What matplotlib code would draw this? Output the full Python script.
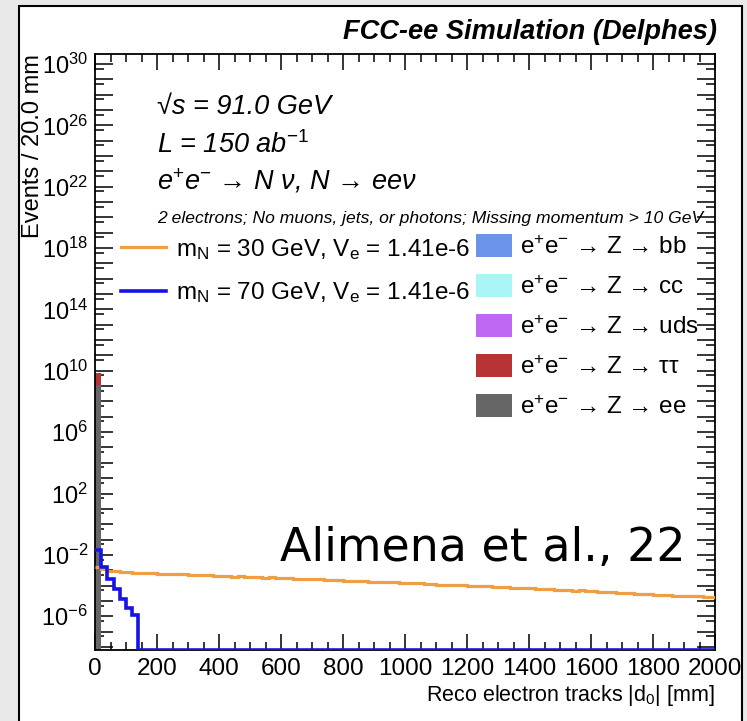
#! /usr/bin/env python3

# Reco electron track |d0| for HNL signal vs. Z backgrounds (FCC-ee, Delphes), ROOT-like look.

import matplotlib
matplotlib.use('Agg')
import matplotlib.pyplot as plt
from matplotlib.patches import Rectangle, Patch
from matplotlib.lines import Line2D
from matplotlib.ticker import FixedLocator, FuncFormatter, MultipleLocator
import numpy as np

plt.rcParams['font.family'] = ['Liberation Sans', 'DejaVu Sans']
plt.rcParams['mathtext.fontset'] = 'custom'
plt.rcParams['mathtext.rm'] = 'Liberation Sans'
plt.rcParams['mathtext.it'] = 'Liberation Sans:italic'
plt.rcParams['mathtext.bf'] = 'Liberation Sans:bold'

# binning: 100 bins of 20 mm
bin_edges = np.arange(0, 2001, 20)

# m_N = 30 GeV signal (events per bin)
sig30 = [1.66e-3, 1.12e-3, 9.3e-4, 8.7e-4, 7.8e-4, 7.8e-4, 7.1e-4, 7.1e-4, 6.5e-4, 6.5e-4,
         6.0e-4, 6.0e-4, 5.6e-4, 5.6e-4, 5.4e-4, 5.0e-4, 5.2e-4, 4.7e-4, 4.6e-4, 4.5e-4,
         4.3e-4, 4.3e-4, 3.9e-4, 4.0e-4, 3.7e-4, 3.6e-4, 3.6e-4, 3.3e-4, 3.4e-4, 3.2e-4,
         3.0e-4, 3.0e-4, 2.8e-4, 2.7e-4, 2.7e-4, 2.5e-4, 2.5e-4, 2.35e-4, 2.25e-4, 2.25e-4,
         2.1e-4, 2.1e-4, 1.95e-4, 1.95e-4, 1.8e-4, 1.78e-4, 1.7e-4, 1.62e-4, 1.62e-4, 1.5e-4,
         1.48e-4, 1.41e-4, 1.38e-4, 1.29e-4, 1.29e-4, 1.17e-4, 1.17e-4, 1.1e-4, 1.1e-4, 1.02e-4,
         9.8e-5, 9.1e-5, 9.3e-5, 8.7e-5, 8.1e-5, 8.1e-5, 7.6e-5, 7.1e-5, 7.1e-5, 6.6e-5,
         6.5e-5, 6.0e-5, 6.0e-5, 5.6e-5, 5.4e-5, 5.4e-5, 4.8e-5, 4.7e-5, 5.2e-5, 4.4e-5,
         4.2e-5, 4.0e-5, 3.8e-5, 3.6e-5, 3.5e-5, 3.4e-5, 3.2e-5, 3.0e-5, 2.95e-5, 2.7e-5,
         2.4e-5, 2.5e-5, 2.35e-5, 2.25e-5, 2.2e-5, 2.1e-5, 2.0e-5, 1.95e-5, 1.86e-5, 1.78e-5]

# m_N = 70 GeV signal: only the first bins are filled
sig70_first = [2.0e-2, 1.7e-3, 2.6e-4, 5.7e-5, 1.3e-5, 3.3e-6, 1.2e-6]

# Z backgrounds, first bin (0-20 mm) only, the rest is empty
bkg_names = [r'e$^{+}$e$^{-}$ → Z → bb',
             r'e$^{+}$e$^{-}$ → Z → cc',
             r'e$^{+}$e$^{-}$ → Z → uds',
             r'e$^{+}$e$^{-}$ → Z → ττ',
             r'e$^{+}$e$^{-}$ → Z → ee']
bkg_colors = ['#6b93e8', '#aaf6f7', '#bf68f4', '#b83434', '#666666']
bkg_first_bin = [0.0, 0.0, 0.0, 5.6e9, 1.2e9]

YMIN, YMAX = 10**-8.2, 10**30.65

W, H = 747, 721
fig = plt.figure(figsize=(W / 100, H / 100), dpi=100, facecolor='#e9e9e9')

# canvas frame
fig.patches.append(Rectangle((19 / W, -0.05), (742 - 19) / W, (H - 6) / H + 0.05,
                             transform=fig.transFigure, facecolor='white',
                             edgecolor='black', lw=1.5, zorder=-10))

ax = fig.add_axes([95 / W, 1 - 650 / H, (715 - 95) / W, (650 - 54) / H])
ax.set_yscale('log')
ax.set_xlim(0, 2000)
ax.set_ylim(YMIN, YMAX)

# stacked backgrounds, ee at the bottom
bottom = YMIN
for name, col, val in reversed(list(zip(bkg_names, bkg_colors, bkg_first_bin))):
    if val > 0:
        ax.bar(bin_edges[0], val, width=20, bottom=bottom, align='edge',
               color=col, edgecolor='none', zorder=2)
        bottom = bottom + val

sig70 = np.zeros(len(bin_edges) - 1)
sig70[:len(sig70_first)] = sig70_first
sig70_draw = np.where(sig70 > 0, sig70, YMIN)

ax.stairs(sig30, bin_edges, color='#ee9f44', lw=2.3, baseline=None, zorder=3)
ax.stairs(sig70_draw, bin_edges, color='#1414e6', lw=2.6, baseline=None, zorder=4)

# ticks, ROOT style
ax.xaxis.set_major_locator(MultipleLocator(200))
ax.xaxis.set_minor_locator(MultipleLocator(50))
ax.yaxis.set_major_locator(FixedLocator([10.0**k for k in range(-9, 32)]))
ax.yaxis.set_minor_locator(FixedLocator([5 * 10.0**k for k in range(-10, 31)]))

def ylab(v, pos):
    k = int(round(np.log10(v)))
    if (k + 2) % 4 == 0:
        return r'$10^{%d}$' % k
    return ''

ax.yaxis.set_major_formatter(FuncFormatter(ylab))
ax.yaxis.set_minor_formatter(FuncFormatter(lambda v, p: ''))
ax.tick_params(which='both', direction='in', top=True, right=True, width=1.1,
               colors='black')
ax.tick_params(axis='x', which='major', length=11.5, pad=6, labelsize=17.5)
ax.tick_params(axis='x', which='minor', length=5.8)
ax.tick_params(axis='y', which='major', length=13, pad=5, labelsize=17)
ax.tick_params(axis='y', which='minor', length=6.5)
for s in ax.spines.values():
    s.set_linewidth(1.3)

ax.set_xlabel('Reco electron tracks |d$_0$| [mm]', fontsize=15.5, loc='right', labelpad=2)
ax.set_ylabel('Events / 20.0 mm', fontsize=17, loc='top')
ax.yaxis.set_label_coords((44 - 95) / 620, 1.0)

# header and labels
fig.text(717 / W, 1 - 32 / H, 'FCC-ee Simulation (Delphes)', ha='right', va='center',
         fontsize=19.6, fontweight='bold', style='italic')
fig.text(157 / W, 1 - 107 / H, '√s = 91.0 GeV', ha='left', va='center',
         fontsize=19.5, style='italic')
fig.text(157 / W, 1 - 145 / H, r'L = 150 ab$^{\mathit{-1}}$', ha='left', va='center',
         fontsize=19.5, style='italic')
fig.text(157 / W, 1 - 181 / H, r'e$^{\mathit{+}}$e$^{\mathit{-}}$ → N ν, N → eeν',
         ha='left', va='center', fontsize=19.5, style='italic')
fig.text(157 / W, 1 - 218 / H,
         '2 electrons; No muons, jets, or photons; Missing momentum > 10 GeV',
         ha='left', va='center', fontsize=12.6, style='italic')

sig_handles = [Line2D([], [], color='#ee9f44', lw=2.3), Line2D([], [], color='#1414e6', lw=2.6)]
sig_labels = [r'm$_\mathrm{N}$ = 30 GeV, V$_\mathrm{e}$ = 1.41e-6',
              r'm$_\mathrm{N}$ = 70 GeV, V$_\mathrm{e}$ = 1.41e-6']
leg1 = ax.legend(sig_handles, sig_labels, loc='upper left',
                 bbox_to_anchor=(121 / W, 1 - 237 / H), bbox_transform=fig.transFigure,
                 frameon=False, fontsize=17.5, handlelength=1.85, handletextpad=0.4,
                 labelspacing=0.75, borderpad=0, borderaxespad=0)
ax.add_artist(leg1)

bkg_handles = [Patch(facecolor=c, edgecolor='none') for c in bkg_colors]
ax.legend(bkg_handles, bkg_names, loc='upper left',
          bbox_to_anchor=(476 / W, 1 - 234 / H), bbox_transform=fig.transFigure,
          frameon=False, fontsize=17.5, handlelength=1.5, handleheight=1.1,
          handletextpad=0.33, labelspacing=0.62, borderpad=0, borderaxespad=0)

fig.text(280 / W, 1 - 548 / H, 'Alimena et al., 22', ha='left', va='center',
         fontsize=33, family='DejaVu Sans')

fig.savefig('out.png', dpi=100, facecolor=fig.get_facecolor())
